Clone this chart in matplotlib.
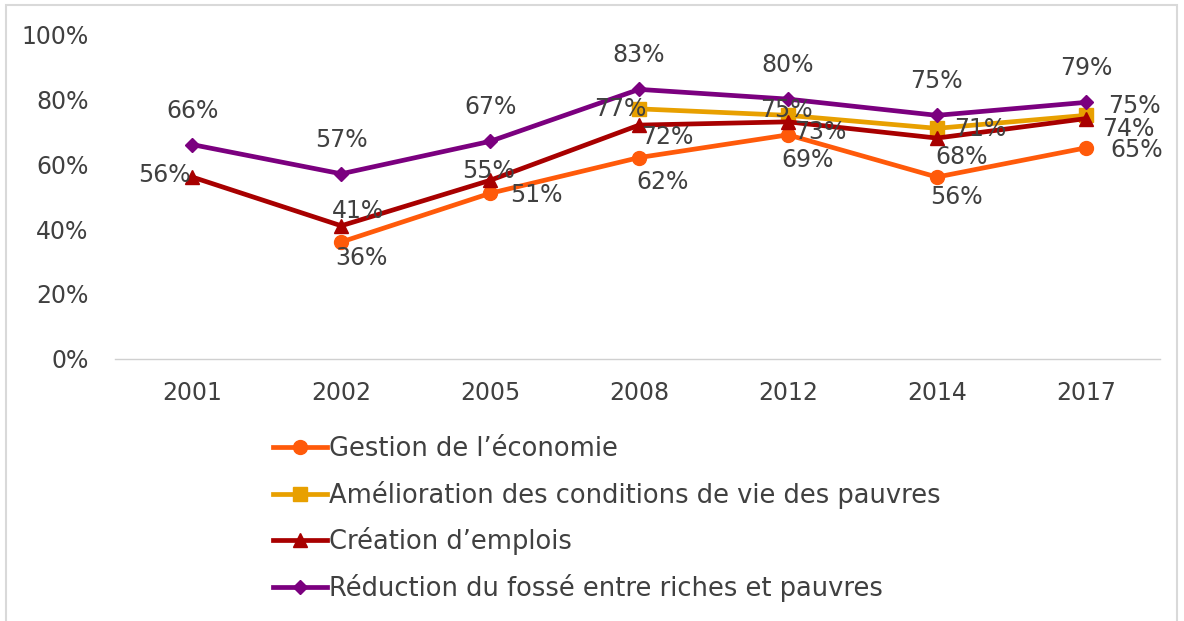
import matplotlib
matplotlib.use('Agg')
import matplotlib.pyplot as plt
import numpy as np
from matplotlib.patches import Rectangle

years = ['2001', '2002', '2005', '2008', '2012', '2014', '2017']
gestion = [None, 36, 51, 62, 69, 56, 65]
amelioration = [None, None, None, 77, 75, 71, 75]
creation = [56, 41, 55, 72, 73, 68, 74]
reduction = [66, 57, 67, 83, 80, 75, 79]

names = ['Gestion de l\u2019économie',
         'Amélioration des conditions de vie des pauvres',
         'Création d\u2019emplois',
         'Réduction du fossé entre riches et pauvres']

# label offsets in pixels (dx, dy down) for each point
off_gestion = [None, (20, 16), (46, 2), (23, 24), (20, 25), (20, 20), (51, 2)]
off_amel = [None, None, None, (-19, 0), (-2, -5), (43, 1), (49, -9)]
off_creation = [(-28, -2), (17, -15), (-2, -9), (28, 12), (32, 10), (25, 19), (42, 10)]
off_reduction = [(0, -34)] * 7

plt.rcParams['font.family'] = ['DejaVu Sans']
txt_color = '#404040'
fs = 17

fig = plt.figure(figsize=(11.84, 6.21), dpi=100)
ax = fig.add_axes([0.097, 0.422, 0.883, 0.523])

x = np.arange(len(years))
series = [(gestion, '#FF5A0A', 'o', off_gestion),
          (amelioration, '#E8A000', 's', off_amel),
          (creation, '#A80000', '^', off_creation),
          (reduction, '#7B007F', 'D', off_reduction)]

for (vals, col, mk, offs), name in zip(series, names):
    xs = [xi for xi, v in zip(x, vals) if v is not None]
    ys = [v / 100 for v in vals if v is not None]
    ms = 10 if mk != 'D' else 7.5
    ax.plot(xs, ys, color=col, lw=3.4, marker=mk, markersize=ms, label=name)
    for xi, v, o in zip(x, vals, offs):
        if v is None:
            continue
        ax.annotate('%d%%' % v, (xi, v / 100), xytext=(o[0] * 0.72, -o[1] * 0.72),
                    textcoords='offset points', ha='center', va='center',
                    fontsize=fs, color=txt_color)

ax.set_xlim(-0.52, 6.5)
ax.set_ylim(0, 1.0)
ax.set_xticks(x)
ax.set_xticklabels(years)
ax.set_yticks(np.arange(0, 1.01, 0.2))
ax.set_yticklabels(['%d%%' % v for v in range(0, 101, 20)])
ax.tick_params(axis='both', length=0, labelsize=fs, labelcolor=txt_color)
ax.tick_params(axis='x', pad=16)
ax.tick_params(axis='y', pad=19)
for s in ['top', 'right', 'left']:
    ax.spines[s].set_visible(False)
ax.spines['bottom'].set_color('#d0d0d0')
ax.spines['bottom'].set_linewidth(1)

leg = fig.legend(loc='upper left', bbox_to_anchor=(0.222, 0.314), frameon=False,
                 fontsize=18.5, labelcolor=txt_color, handlelength=2.1,
                 handletextpad=0.08, labelspacing=0.72, borderaxespad=0)

fig.patches.append(Rectangle((0.005, -0.1), 0.989, 1.092, transform=fig.transFigure,
                             fill=False, edgecolor='#d9d9d9', lw=1.5))

plt.savefig('out.png', dpi=100)
